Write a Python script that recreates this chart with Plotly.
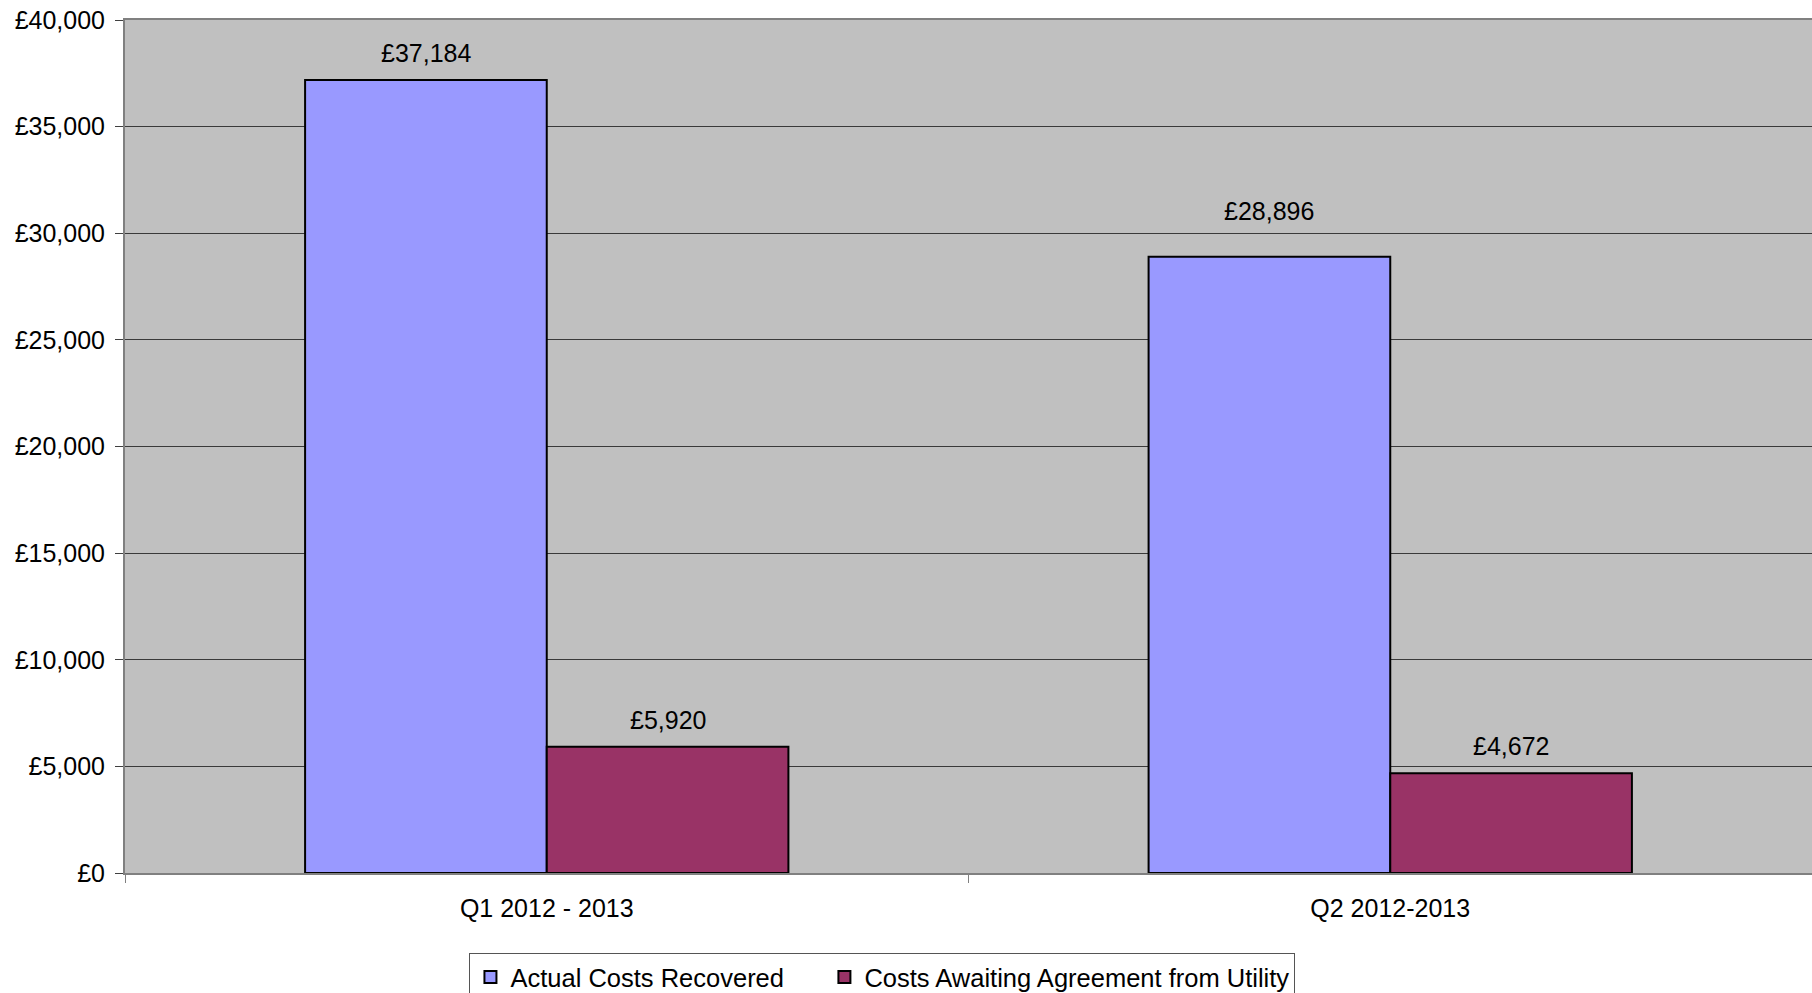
import plotly.graph_objects as go

# Quarterly cost recovery figures (GBP)
quarters = ["Q1 2012 - 2013", "Q2 2012-2013"]
actual_recovered = [37184, 28896]
awaiting_agreement = [5920, 4672]
series_names = ["Actual Costs Recovered", "Costs Awaiting Agreement from Utility"]
series_colors = ["#9999FF", "#993366"]

# Pixel lift of each value label above its bar (one list per series)
label_lift = [[27, 46], [27, 27]]

FONT = "Arial, Liberation Sans, sans-serif"
BARGAP = 0.427
ENTRY_PAD = "\u00a0" * 5  # extra room between legend entries

fig = go.Figure()
for k, (name, vals, col) in enumerate(zip(series_names, [actual_recovered, awaiting_agreement], series_colors)):
    fig.add_trace(go.Bar(
        x=quarters, y=vals,
        name=name + (ENTRY_PAD if k == 0 else ""),
        marker=dict(color=col, line=dict(color="#000000", width=2)),
    ))

# Value labels above each bar; bar centres follow from the group layout
n_series = 2
bar_w = (1 - BARGAP) / n_series
for s, vals in enumerate([actual_recovered, awaiting_agreement]):
    offset = -(1 - BARGAP) / 2 + bar_w * (s + 0.5)
    for i, v in enumerate(vals):
        fig.add_annotation(
            x=i + offset, y=v, xref="x", yref="y",
            text=f"£{v:,}", showarrow=False,
            yanchor="middle", yshift=label_lift[s][i],
            font=dict(family=FONT, size=25, color="#000000"),
        )

fig.update_layout(
    width=1812, height=993,
    margin=dict(l=125, r=0, t=20, b=120),
    paper_bgcolor="#FFFFFF",
    plot_bgcolor="#C0C0C0",
    barmode="group", bargap=BARGAP, bargroupgap=0,
    font=dict(family=FONT, size=24, color="#000000"),
    showlegend=True,
    legend=dict(
        orientation="h",
        xref="container", yref="container",
        x=0.487, xanchor="center",
        y=0.0403, yanchor="top",
        bgcolor="#FFFFFF", bordercolor="#555555", borderwidth=1,
        font=dict(family=FONT, size=25.5, color="#000000"),
        itemclick=False,
    ),
)

fig.update_xaxes(
    type="category",
    showline=True, linecolor="#808080", linewidth=2, mirror=True,
    ticks="outside", ticklen=8, tickcolor="#808080", tickwidth=1,
    tickson="boundaries",
    tickfont=dict(family=FONT, size=25, color="#000000"),
    ticklabelstandoff=12,
    showgrid=False,
)
fig.update_yaxes(
    range=[0, 40000], dtick=5000,
    tickprefix="£", tickformat=",",
    showline=True, linecolor="#808080", linewidth=2,
    ticks="outside", ticklen=8, tickcolor="#404040", tickwidth=1,
    tickfont=dict(family=FONT, size=25, color="#000000"),
    ticklabelstandoff=5,
    showgrid=True, gridcolor="#3a3a3a", gridwidth=1,
    zeroline=False,
)

fig.write_html("out.html")
